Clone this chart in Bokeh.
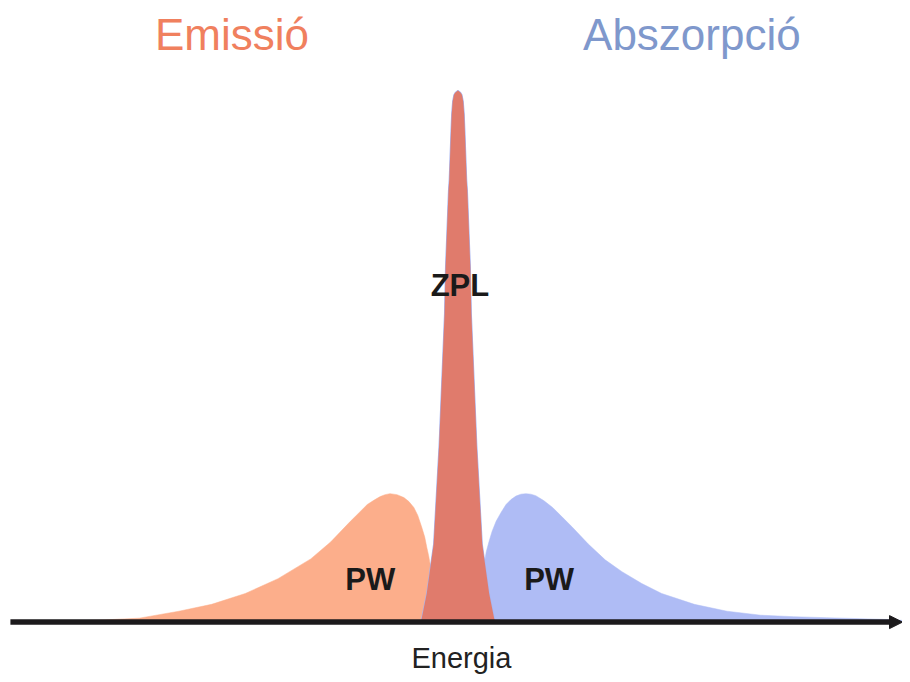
from bokeh.plotting import figure
from bokeh.models import Range1d, Label, Arrow, NormalHead
from bokeh.embed import file_html
from bokeh.resources import INLINE

# ---- data (energy in arbitrary units, ZPL centred at 0; intensity in % of ZPL peak) ----
emission_energy = [-4.015, -3.615, -3.215, -2.815, -2.485, -2.145, -1.815, -1.485, -1.285, -1.085,
                   -0.995, -0.915, -0.845, -0.785, -0.735, -0.685, -0.615, -0.545, -0.495, -0.445,
                   -0.405, -0.365, -0.335, -0.315, -0.295, -0.285, -0.235, -0.155, -0.065]
emission_pw = [0.0, 0.19, 0.56, 1.87, 3.17, 5.22, 8.02, 11.75, 14.93, 18.84,
               20.52, 22.01, 22.85, 23.51, 23.88, 24.07, 23.88, 23.32, 22.57, 21.46,
               19.96, 17.72, 15.86, 13.99, 12.31, 11.19, 7.09, 2.43, 0.0]

absorption_energy = [0.065, 0.155, 0.225, 0.265, 0.285, 0.315, 0.345, 0.385, 0.435, 0.485,
                     0.535, 0.585, 0.635, 0.685, 0.735, 0.785, 0.865, 0.955, 1.055, 1.155,
                     1.315, 1.485, 1.655, 1.855, 2.055, 2.385, 2.715, 3.055, 3.385, 3.715,
                     4.055, 4.385, 4.585]
absorption_pw = [0.0, 2.43, 7.09, 10.82, 13.06, 15.11, 16.98, 18.84, 20.52, 22.01,
                 22.95, 23.60, 23.97, 24.07, 23.97, 23.69, 22.76, 21.46, 19.59, 17.72,
                 14.55, 11.57, 9.33, 7.09, 5.22, 3.17, 1.87, 1.12, 0.84, 0.65,
                 0.47, 0.28, 0.0]

zpl_energy = [-0.375, -0.365, -0.315, -0.245, -0.19, -0.135, -0.125, -0.095, -0.088, -0.076,
              -0.07, -0.063, -0.053, -0.04, -0.025, 0.0, 0.025, 0.04, 0.053, 0.063,
              0.07, 0.076, 0.088, 0.095, 0.125, 0.135, 0.19, 0.245, 0.315, 0.365, 0.375]
zpl_intensity = [0.0, 0.56, 5.22, 14.55, 33.21, 58.02, 66.79, 81.34, 83.21, 89.37,
                 92.54, 95.71, 98.13, 99.38, 99.81, 100.19, 99.81, 99.38, 98.13, 95.71,
                 92.54, 89.37, 83.21, 81.34, 66.79, 58.02, 33.21, 14.55, 5.22, 0.56, 0.0]

title_emission = "Emissió"
title_absorption = "Abszorpció"
zpl_label = "ZPL"
pw_label = "PW"
axis_label = "Energia"


# position helpers (picture pixels -> plot units), used only for placing annotations
def ex(px):
    return (px - 461.5) / 100.0


def iy(py):
    return (628.0 - py) / 5.36


# ---- figure ----
p = figure(width=902, height=674, output_backend="svg", toolbar_location=None,
           x_range=Range1d(ex(0), ex(910)), y_range=Range1d(iy(682), iy(0)),
           min_border=0, min_border_left=0, min_border_right=0,
           min_border_top=0, min_border_bottom=0)
p.axis.visible = False
p.grid.visible = False
p.outline_line_color = None
p.background_fill_color = "white"
p.border_fill_color = "white"

C_EM = "#fcae8b"
C_AB = "#afbcf5"
C_ZPL = "#e07b6c"

p.patch(emission_energy, emission_pw, fill_color=C_EM, line_color=C_EM, line_width=0.5)
p.patch(absorption_energy, absorption_pw, fill_color=C_AB, line_color=C_AB, line_width=0.5)
p.patch(zpl_energy, zpl_intensity, fill_color=C_AB, line_color="#a9b4ee", line_width=1.2)
p.patch(zpl_energy, zpl_intensity, fill_color=C_ZPL, line_color=None)

# axis arrow
p.add_layout(Arrow(x_start=ex(10), y_start=iy(629), x_end=ex(910), y_end=iy(629),
                   line_color="#1c1a1c", line_width=5.5,
                   end=NormalHead(size=13, fill_color="#1c1a1c", line_color="#1c1a1c", line_width=1)))

FONT = "Liberation Sans"
p.add_layout(Label(x=ex(233.5), y=iy(34), text=title_emission, text_align="center",
                   text_baseline="alphabetic", text_font=FONT, text_font_size="44px",
                   text_color="#f0805e"))
p.add_layout(Label(x=ex(697.5), y=iy(34), text=title_absorption, text_align="center",
                   text_baseline="alphabetic", text_font=FONT, text_font_size="44px",
                   text_color="#7f98cc"))
p.add_layout(Label(x=ex(463.5), y=iy(288.5), text=zpl_label, text_align="center",
                   text_baseline="alphabetic", text_font=FONT, text_font_size="31px",
                   text_font_style="bold", text_color="#1a1a1a"))
p.add_layout(Label(x=ex(373), y=iy(585.5), text=pw_label, text_align="center",
                   text_baseline="alphabetic", text_font=FONT, text_font_size="31px",
                   text_font_style="bold", text_color="#1a1a1a"))
p.add_layout(Label(x=ex(553.5), y=iy(585.5), text=pw_label, text_align="center",
                   text_baseline="alphabetic", text_font=FONT, text_font_size="31px",
                   text_font_style="bold", text_color="#1a1a1a"))
p.add_layout(Label(x=ex(465), y=iy(665), text=axis_label, text_align="center",
                   text_baseline="alphabetic", text_font=FONT, text_font_size="29px",
                   text_color="#222222"))

open("out.html", "w").write(file_html(p, INLINE))
